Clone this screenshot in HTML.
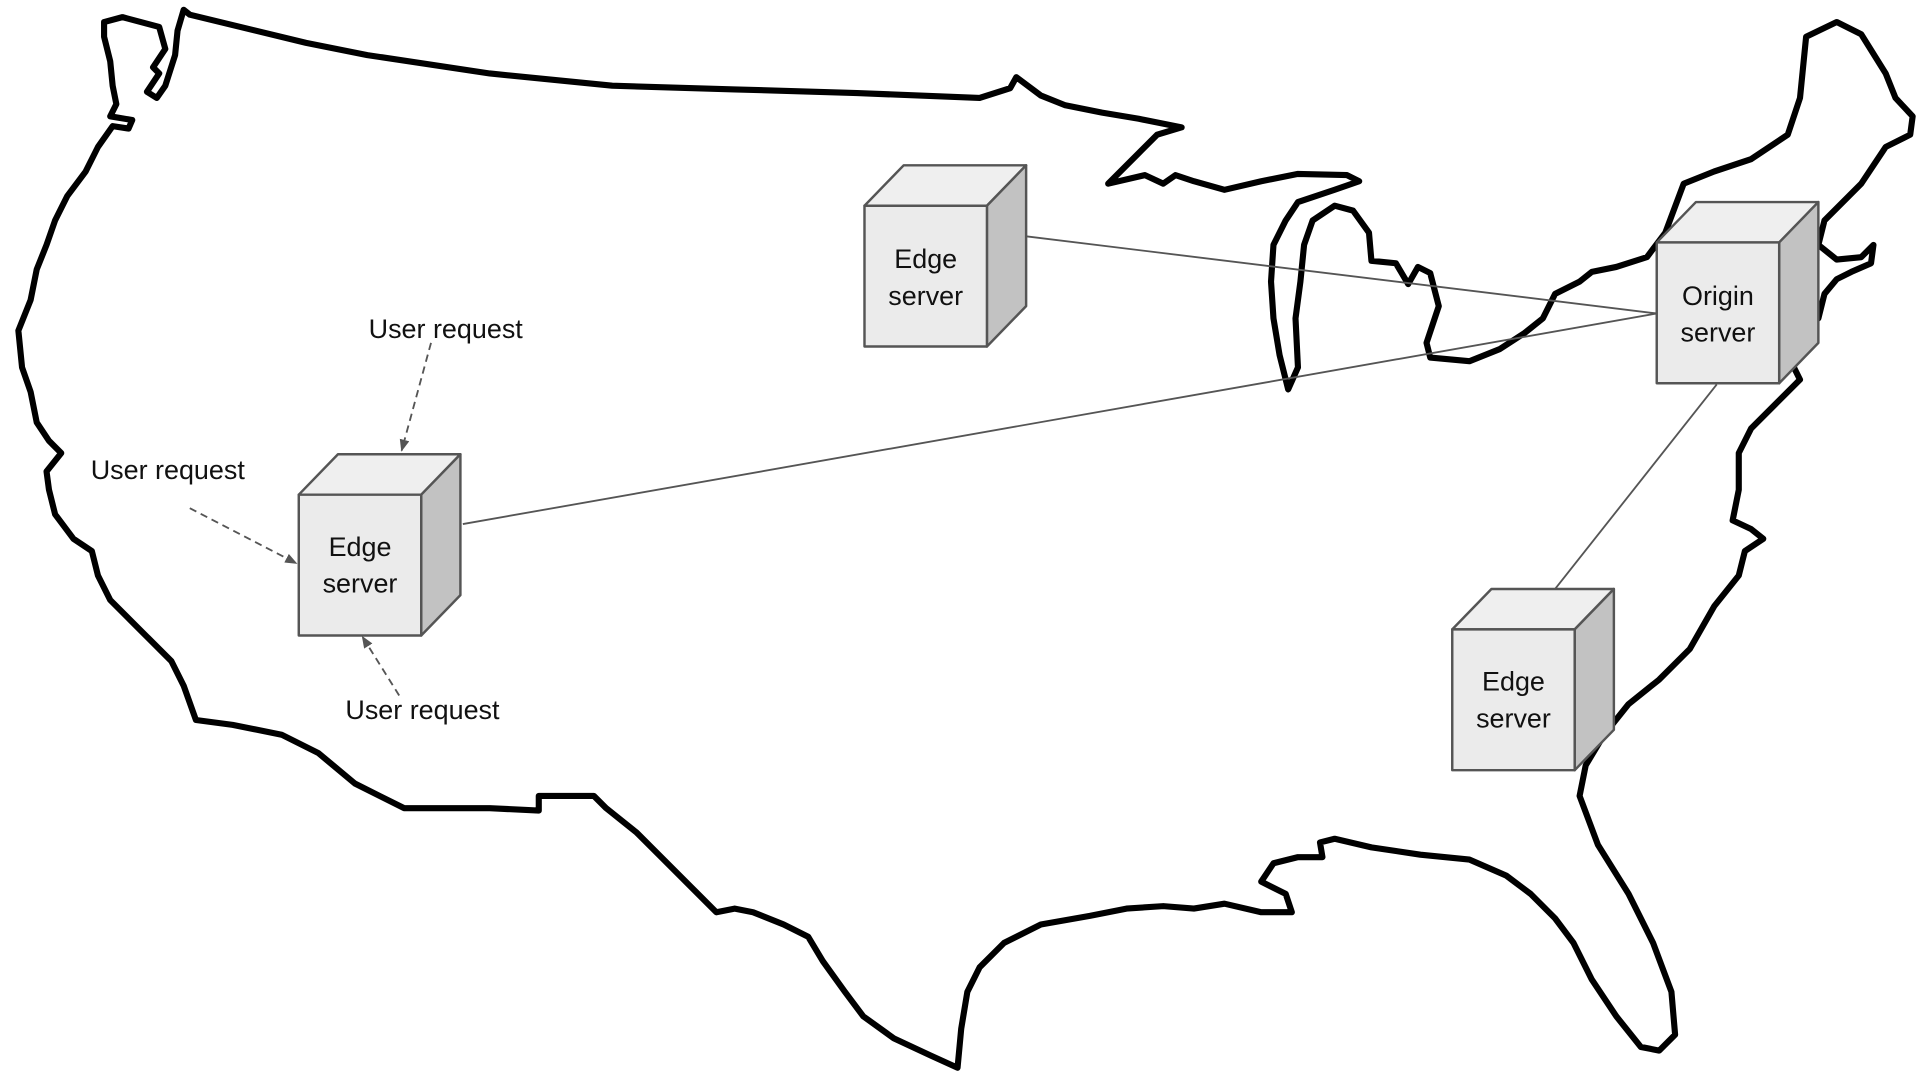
<!DOCTYPE html>
<html><head><meta charset="utf-8"><style>
html,body{margin:0;padding:0;background:#fff;}
svg{display:block;}
text{font-family:"Liberation Sans",sans-serif;fill:#111;}
</style></head><body>
<svg width="1920" height="1080" viewBox="0 0 1568 882" xmlns="http://www.w3.org/2000/svg">
<defs>
<marker id="ah" markerWidth="10" markerHeight="10" refX="9" refY="5" orient="auto" markerUnits="userSpaceOnUse">
<path d="M0,1 L10,5 L0,9 Z" fill="#555"/></marker>
</defs>
<path fill="none" stroke="#000" stroke-width="5" stroke-linejoin="round" d="
M85,18 L100,14 L130,22 L135,40 L125,55 L130,60 L120,75 L128,80 L135,70 L143,45 L145,25 L150,8 L155,12
L250,35 L300,45 L400,60 L500,70 L600,73 L700,76 L800,80 L825,72 L830,63 L850,78 L870,86 L900,92 L930,97 L965,104
L945,110 L930,125 L915,140 L905,150 L935,143 L950,150 L960,143 L975,148 L1000,155 L1030,148 L1060,142 L1100,143 L1110,148
L1090,155 L1060,165 L1050,180 L1040,200 L1038,230 L1040,260 L1045,290 L1052,318 L1060,300 L1058,260 L1062,230 L1065,200 L1072,180 L1090,168 L1105,172 L1118,190 L1120,213 L1140,215 L1150,232 L1158,218 L1168,223 L1175,250 L1165,280 L1168,292 L1200,295 L1225,285 L1245,272 L1260,260 L1270,240 L1290,230 L1300,222 L1320,218 L1345,210 L1360,190 L1375,150 L1400,140 L1430,130 L1460,110 L1470,80 L1475,30 L1500,18 L1520,28 L1540,60 L1548,80 L1562,95 L1560,110 L1540,120 L1520,150 L1510,160 L1500,170 L1490,180 L1485,200 L1500,212 L1520,210 L1530,200 L1528,215 L1512,222 L1500,228 L1490,240 L1485,260 L1470,270 L1465,300 L1470,310 L1450,330 L1430,350 L1420,370 L1420,400 L1415,425 L1430,432 L1440,440 L1425,450 L1420,470 L1400,495 L1380,530 L1355,555 L1330,575 L1310,600 L1295,625 L1290,650 L1305,690 L1330,730 L1350,770 L1365,810 L1368,845 L1355,858 L1340,855 L1320,830 L1300,800 L1285,770 L1270,750 L1250,730 L1230,715 L1200,702 L1160,698 L1120,692 L1090,685 L1078,688 L1080,700 L1060,700 L1040,705 L1030,720 L1050,730 L1055,745 L1030,745 L1000,738 L975,742 L950,740 L920,742 L890,748 L850,755 L820,770 L800,790 L790,810 L785,840 L782,872 L760,862 L730,848 L705,830 L690,810 L672,785 L660,765 L640,755 L615,745 L600,742 L585,745 L565,725 L540,700 L520,680 L495,660 L485,650 L440,650 L440,662 L400,660 L330,660 L290,640 L260,615 L230,600 L190,592 L160,588 L150,560 L140,540 L120,520 L105,505 L90,490 L80,470 L75,450 L60,440 L45,420 L40,400 L38,385 L50,370 L40,360 L30,345 L25,320 L18,300 L15,270 L25,245 L30,220 L38,200 L45,180 L55,160 L70,140 L80,120 L92,103 L105,105 L108,98 L90,95 L95,85 L92,70 L90,50 L85,30 Z"/>
<!-- connectors -->
<g stroke="#555" stroke-width="1.5" fill="none">
<line x1="838" y1="193" x2="1353" y2="256"/>
<line x1="378" y1="428" x2="1353" y2="256"/>
<line x1="1402" y1="314" x2="1270" y2="481"/>
</g>
<g stroke="#555" stroke-width="1.5" fill="none" stroke-dasharray="6,4">
<line x1="352" y1="280" x2="328" y2="368" marker-end="url(#ah)"/>
<line x1="155" y1="415" x2="242" y2="460" marker-end="url(#ah)"/>
<line x1="326" y1="568" x2="296" y2="520" marker-end="url(#ah)"/>
</g>
<!-- cubes -->
<g stroke="#555" stroke-width="2" stroke-linejoin="round">
<g transform="translate(706,168)">
<path d="M0,0 L32,-33 L132,-33 L100,0 Z" fill="#efefef"/>
<path d="M100,0 L132,-33 L132,82 L100,115 Z" fill="#c2c2c2"/>
<rect x="0" y="0" width="100" height="115" fill="#ebebeb"/>
</g>
<g transform="translate(244,404)">
<path d="M0,0 L32,-33 L132,-33 L100,0 Z" fill="#efefef"/>
<path d="M100,0 L132,-33 L132,82 L100,115 Z" fill="#c2c2c2"/>
<rect x="0" y="0" width="100" height="115" fill="#ebebeb"/>
</g>
<g transform="translate(1353,198)">
<path d="M0,0 L32,-33 L132,-33 L100,0 Z" fill="#efefef"/>
<path d="M100,0 L132,-33 L132,82 L100,115 Z" fill="#c2c2c2"/>
<rect x="0" y="0" width="100" height="115" fill="#ebebeb"/>
</g>
<g transform="translate(1186,514)">
<path d="M0,0 L32,-33 L132,-33 L100,0 Z" fill="#efefef"/>
<path d="M100,0 L132,-33 L132,82 L100,115 Z" fill="#c2c2c2"/>
<rect x="0" y="0" width="100" height="115" fill="#ebebeb"/>
</g>
</g>
<g font-size="22" text-anchor="middle">
<text x="756" y="219">Edge</text><text x="756" y="249">server</text>
<text x="294" y="454">Edge</text><text x="294" y="484">server</text>
<text x="1403" y="249">Origin</text><text x="1403" y="279">server</text>
<text x="1236" y="564">Edge</text><text x="1236" y="594">server</text>
<text x="364" y="276">User request</text>
<text x="137" y="391">User request</text>
<text x="345" y="587">User request</text>
</g>
</svg>
</body></html>
